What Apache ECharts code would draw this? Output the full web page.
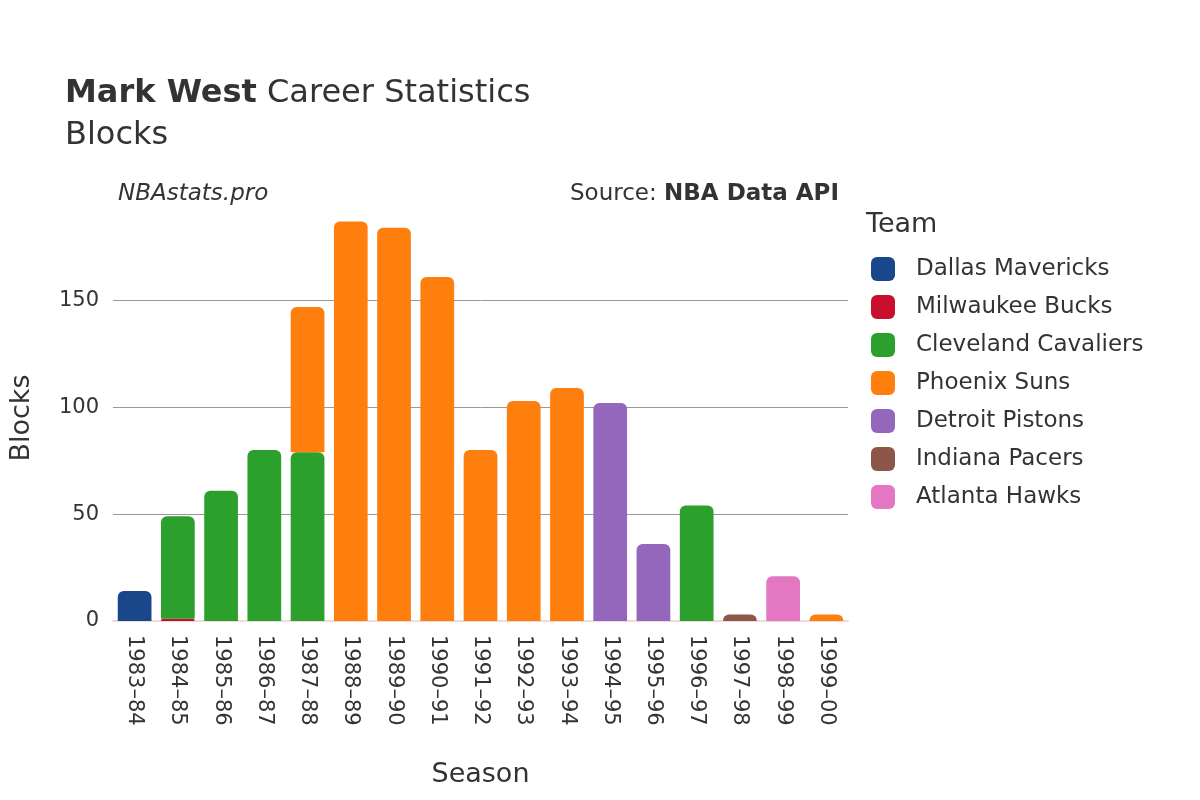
<!DOCTYPE html>
<html>
<head>
<meta charset="utf-8">
<script src="https://cdn.jsdelivr.net/npm/echarts@6/dist/echarts.min.js"></script>
<style>html,body{margin:0;background:#fff}#c{width:1200px;height:800px}</style>
</head>
<body>
<div id="c"></div>
<script>
const seasons = ["1983–84","1984–85","1985–86","1986–87","1987–88","1988–89","1989–90","1990–91","1991–92","1992–93","1993–94","1994–95","1995–96","1996–97","1997–98","1998–99","1999–00"];
const teams = ["Dallas Mavericks","Milwaukee Bucks","Cleveland Cavaliers","Phoenix Suns","Detroit Pistons","Indiana Pacers","Atlanta Hawks"];
const colors = ["#1a468a","#c8102e","#2ca02c","#ff7f0e","#9467bd","#8c564b","#e377c2"];
const dal = [14,0,0,0,0,0,0,0,0,0,0,0,0,0,0,0,0];
const mil = [0,1,0,0,0,0,0,0,0,0,0,0,0,0,0,0,0];
const cle = [0,48,61,80,79,0,0,0,0,0,0,0,0,54,0,0,0];
const phx = [0,0,0,0,68,187,184,161,80,103,109,0,0,0,0,0,3];
const det = [0,0,0,0,0,0,0,0,0,0,0,102,36,0,0,0,0];
const ind = [0,0,0,0,0,0,0,0,0,0,0,0,0,0,3,0,0];
const atl = [0,0,0,0,0,0,0,0,0,0,0,0,0,0,0,21,0];
const values = [dal,mil,cle,phx,det,ind,atl];

const font = "'DejaVu Sans', 'Noto Sans', sans-serif";
let myChart = echarts.init(document.querySelector("#c"));
let option = {
  textStyle: { fontFamily: font },
  title: [
    { text: "{b|Mark West} Career Statistics\nBlocks", left: 60, top: 68,
      textStyle: { fontSize: 32, color: "#333", fontWeight: "normal", lineHeight: 42,
        rich: { b: { fontSize: 32, fontWeight: "bold", color: "#333" } } } },
    { text: "NBAstats.pro", left: 113, top: 178, textStyle: { fontSize: 23, fontStyle: "italic", fontWeight: "normal", color: "#333" } },
    { text: "Source: {b|NBA Data API}", right: 356, top: 178,
      textStyle: { fontSize: 23, fontWeight: "normal", color: "#333", rich: { b: { fontSize: 23, fontWeight: "bold", color: "#333" } } } },
  ],
  legend: {
    orient: "vertical", left: 866, top: 210, itemWidth: 24, itemHeight: 24, itemGap: 14,
    icon: "roundRect", textStyle: { fontSize: 23, color: "#333", padding: [0, 0, 0, 16] },
    data: teams,
  },
  graphic: [{ type: "text", left: 866, top: 211, style: { text: "Team", fontSize: 27, fill: "#333", fontFamily: font } }],
  grid: { left: 107, right: 352, top: 215, bottom: 179 },
  xAxis: {
    type: "category", data: seasons, name: "Season", nameLocation: "middle", nameGap: 140,
    nameTextStyle: { fontSize: 27, color: "#333" },
    axisLine: { lineStyle: { color: "#f0dada", width: 2 } }, axisTick: { show: false },
    axisLabel: { rotate: -90, fontSize: 21, color: "#333", margin: 14 },
  },
  yAxis: {
    type: "value", min: 0, max: 190, interval: 50, name: "Blocks", nameLocation: "middle", nameGap: 78,
    nameTextStyle: { fontSize: 27, color: "#333" },
    axisLabel: { fontSize: 21, color: "#333", showMaxLabel: false, margin: 14 },
    splitLine: { lineStyle: { color: ["rgba(0,0,0,0)","#999","#999","#999","rgba(0,0,0,0)"] } },
  },
  series: teams.map((t, i) => ({
    name: t, type: "bar", stack: "all", barCategoryGap: "22%",
    itemStyle: { color: colors[i], borderRadius: [6, 6, 0, 0] },
    data: values[i].map(v => v || null),
  })),
};
option.legend.top = 252;
myChart.setOption(option);
window.addEventListener("resize", () => { myChart.resize(); });
</script>
</body>
</html>
